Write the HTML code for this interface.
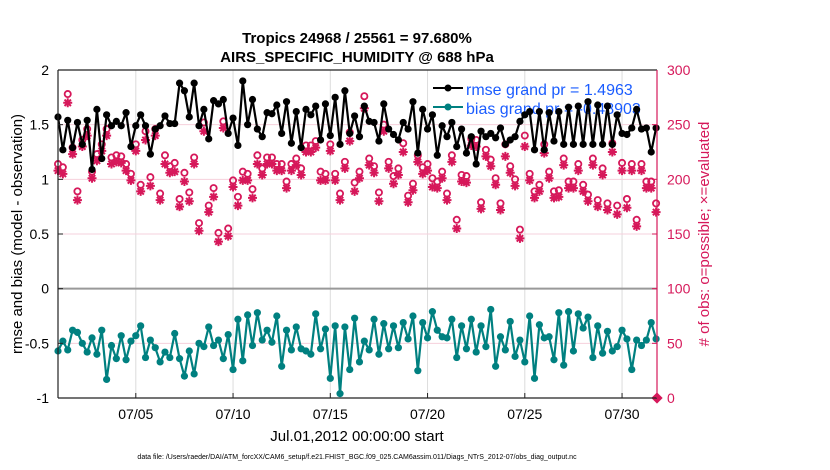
<!DOCTYPE html>
<html><head><meta charset="utf-8"><style>
body{margin:0;background:#fff;}
svg{display:block;font-family:"Liberation Sans",Arial,sans-serif;}
</style></head><body>
<svg id="chart" width="830" height="470" viewBox="0 0 830 470" xmlns="http://www.w3.org/2000/svg">
<rect width="830" height="470" fill="#fff"/>
<text x="357" y="43" text-anchor="middle" font-size="15" font-weight="bold">Tropics 24968 / 25561 = 97.680%</text>
<text x="357" y="62" text-anchor="middle" font-size="15" font-weight="bold">AIRS_SPECIFIC_HUMIDITY @ 688 hPa</text>
<g id="grid"></g>
<g id="legend">
<line x1="433" y1="88" x2="463" y2="88" stroke="#000" stroke-width="2"/><circle cx="448" cy="88" r="3.5" fill="#000"/>
<text x="466" y="95" font-size="16" fill="#1a5cff">rmse grand pr = 1.4963</text>
<line x1="433" y1="107" x2="463" y2="107" stroke="#008080" stroke-width="2"/><circle cx="448" cy="107" r="3.5" fill="#008080"/>
<text x="466" y="114" font-size="16" fill="#1a5cff">bias grand pr = -0.48903</text>
</g>
<g id="marks"></g>
<g id="axes"></g>
<text transform="translate(22,234) rotate(-90)" text-anchor="middle" font-size="15">rmse and bias (model - observation)</text>
<text transform="translate(709,234) rotate(-90)" text-anchor="middle" font-size="15" fill="#d6185a"># of obs: o=possible; ×=evaluated</text>
<text x="357" y="441" text-anchor="middle" font-size="15">Jul.01,2012 00:00:00 start</text>
<text x="357" y="459" text-anchor="middle" font-size="7">data file: /Users/raeder/DAI/ATM_forcXX/CAM6_setup/f.e21.FHIST_BGC.f09_025.CAM6assim.011/Diags_NTrS_2012-07/obs_diag_output.nc</text>
</svg>
<script>
const xTickLabels=["07/05","07/10","07/15","07/20","07/25","07/30"];
const xTickDays=[4,9,14,19,24,29];
const yLeftTicks=[-1,-0.5,0,0.5,1,1.5,2];
const yRightTicks=[0,50,100,150,200,250,300];
const rmse=[1.57,1.27,1.54,1.29,1.52,1.32,1.54,1.09,1.64,1.19,1.59,1.49,1.53,1.49,1.61,1.30,1.49,1.59,1.49,1.23,1.46,1.49,1.58,1.51,1.51,1.88,1.81,1.57,1.88,1.49,1.64,1.37,1.72,1.69,1.73,1.42,1.56,1.31,1.90,1.50,1.73,1.46,1.39,1.61,
1.60,1.68,1.42,1.71,1.33,1.62,1.29,1.64,1.59,1.67,1.36,1.69,1.40,1.75,1.32,1.81,1.42,1.58,1.39,1.67,1.53,1.52,1.35,1.69,1.46,1.41,1.36,1.52,1.46,1.71,1.24,1.64,1.46,1.59,1.22,1.49,1.39,1.52,1.30,1.46,1.24,1.39,
1.14,1.44,1.39,1.42,1.38,1.47,1.32,1.36,1.39,1.53,1.59,1.62,1.27,1.62,1.27,1.61,1.35,1.62,1.32,1.66,1.32,1.67,1.32,1.71,1.32,1.68,1.32,1.67,1.32,1.59,1.42,1.41,1.47,1.64,1.46,1.47,1.25,1.47];
const bias=[-0.57,-0.48,-0.56,-0.38,-0.40,-0.50,-0.58,-0.45,-0.60,-0.38,-0.83,-0.52,-0.64,-0.43,-0.65,-0.48,-0.43,-0.34,-0.63,-0.47,-0.54,-0.67,-0.58,-0.63,-0.41,-0.64,-0.80,-0.57,-0.78,-0.50,-0.53,-0.35,-0.52,-0.47,-0.64,-0.42,-0.74,-0.28,-0.66,-0.24,-0.52,-0.22,-0.47,-0.38,-0.49,-0.25,-0.71,-0.38,-0.56,-0.35,-0.55,-0.57,-0.60,-0.23,-0.55,-0.37,-0.82,-0.34,-0.96,-0.35,-0.74,-0.27,-0.67,
-0.48,-0.56,-0.28,-0.60,-0.32,-0.55,-0.34,-0.54,-0.31,-0.46,-0.25,-0.75,-0.31,-0.45,-0.21,-0.38,-0.44,-0.45,-0.28,-0.63,-0.34,-0.55,-0.28,-0.58,-0.34,-0.53,-0.19,-0.71,-0.44,-0.56,-0.30,-0.62,-0.47,-0.67,-0.25,-0.82,-0.33,-0.45,-0.44,-0.65,-0.22,-0.70,-0.21,-0.57,-0.23,-0.36,-0.26,-0.63,-0.34,-0.59,-0.39,-0.57,-0.53,-0.38,-0.46,-0.74,-0.47,-0.52,-0.47,-0.31,-0.46];
const evaluated=[208,205,270,223,181,230,240,201,217,226,240,214,216,215,208,199,226,189,236,194,240,181,214,206,207,175,198,180,214,153,244,170,184,143,247,148,193,176,199,199,183,214,204,214,
214,208,208,192,208,213,204,225,225,229,199,199,226,199,181,210,235,189,201,265,213,206,180,244,210,196,204,225,179,190,216,205,208,193,192,201,181,216,155,198,197,231,
230,173,221,212,195,172,221,206,194,146,230,199,183,189,224,201,183,184,213,192,192,208,189,180,213,175,204,172,225,168,208,174,208,157,208,192,192,170];
const possible=[214,211,278,229,189,236,246,207,223,232,246,220,222,221,214,205,232,195,244,202,246,187,222,212,215,182,206,188,220,160,252,176,192,151,253,155,199,184,207,205,191,222,210,220,
220,214,214,198,214,219,210,231,231,235,207,205,232,205,187,216,243,197,207,276,219,212,188,250,216,203,210,233,185,196,222,211,214,201,198,207,187,222,163,204,203,237,
236,179,227,218,201,178,232,212,200,154,240,205,189,195,232,207,189,190,219,198,198,214,195,186,219,181,210,178,233,176,215,182,214,163,214,198,198,178];
const NS="http://www.w3.org/2000/svg";
const X0=58,X1=657,Y0=70,Y1=398;
const xs=d=>X0+d*19.45;
const yl=v=>Y1-(v+1)/3*(Y1-Y0);
const yr=v=>Y1-v/300*(Y1-Y0);
function mk(tag,attrs,parent){const e=document.createElementNS(NS,tag);for(const k in attrs)e.setAttribute(k,attrs[k]);parent.appendChild(e);return e;}
const grid=document.getElementById('grid'),axes=document.getElementById('axes'),marks=document.getElementById('marks');
xTickDays.forEach((d,i)=>{
  const gl=mk('line',{x1:xs(d),x2:xs(d),y1:Y0,y2:Y1,stroke:'#dcdcdc','stroke-width':1},grid);
  
  
  const tk=mk('line',{x1:xs(d),x2:xs(d),y1:Y1,y2:Y1-5,stroke:'#222'},axes);
  
  
  const t=mk('text',{x:xs(d),y:Y1+21,'text-anchor':'middle','font-size':14},axes);
  t.textContent=xTickLabels[i];
  
  
});
yRightTicks.forEach(v=>{
  if(v>0&&v<300&&v!==100){
    const gl=mk('line',{x1:X0,x2:X1,y1:yr(v),y2:yr(v),stroke:'#f6d0dc','stroke-width':1},grid);
    
    
  }
  const tk=mk('line',{x1:X1,x2:X1-5,y1:yr(v),y2:yr(v),stroke:'#d6185a'},axes);
  
  
  const t=mk('text',{x:X1+10,y:yr(v)+5,'font-size':14,fill:'#d6185a'},axes);
  t.textContent=v;
  
  
});
const zl=mk('line',{x1:X0,x2:X1,y1:yl(0),y2:yl(0),stroke:'#999','stroke-width':2},grid);


yLeftTicks.forEach(v=>{
  const tk=mk('line',{x1:X0,x2:X0+5,y1:yl(v),y2:yl(v),stroke:'#222'},axes);
  
  
  const t=mk('text',{x:X0-9,y:yl(v)+5,'text-anchor':'end','font-size':14},axes);
  t.textContent=String(v);
  
  
});
const frame=[['M',X0,Y0,X1,Y0,'#222'],['M',X0,Y0,X0,Y1,'#222'],['M',X0,Y1,X1,Y1,'#222'],['M',X1,Y0,X1,Y1,'#d6185a']];
frame.forEach(f=>{
  const l=mk('line',{x1:f[1],y1:f[2],x2:f[3],y2:f[4],stroke:f[5],'stroke-width':1.2},axes);
  
  
});
const pg=mk('g',{},marks);


possible.forEach((v,i)=>{
  const c=mk('circle',{cx:xs(i*0.25),cy:yr(v),r:3.1,fill:'none',stroke:'#d6185a','stroke-width':1.8},pg);
  
  
});
evaluated.forEach((v,i)=>{
  const x=xs(i*0.25),y=yr(v),r=4.5,q=3.2;
  const d=`M${x-r},${y}H${x+r}M${x},${y-r}V${y+r}M${x-q},${y-q}L${x+q},${y+q}M${x-q},${y+q}L${x+q},${y-q}`;
  const p=mk('path',{d:d,stroke:'#d6185a','stroke-width':2},pg);
  
  
});
const endm=mk('rect',{x:X1-4,y:Y1-4,width:8,height:8,fill:'#d6185a',transform:`rotate(45 ${X1} ${Y1})`},pg);


function series(arr,color,name){
  const g=mk('g',{},marks);
  
  
  const pts=arr.map((v,i)=>xs(i*0.25)+','+yl(v)).join(' ');
  const pl=mk('polyline',{points:pts,fill:'none',stroke:color,'stroke-width':2.2,'stroke-linejoin':'round'},g);
  
  
  arr.forEach((v,i)=>{
    const c=mk('circle',{cx:xs(i*0.25),cy:yl(v),r:3.6,fill:color},g);
    
    
  });
}
series(rmse,'#000','rmse-series');
series(bias,'#008080','bias-series');
</script>
</body></html>
